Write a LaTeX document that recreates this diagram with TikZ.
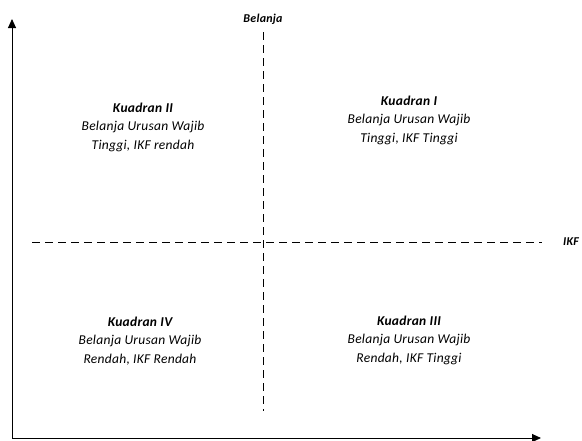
\documentclass[tikz,border=0pt]{standalone}
\usepackage{fontspec}
\setmainfont{Carlito}
\newfontfamily\quadfont[LetterSpace=2]{Carlito}
\usetikzlibrary{arrows.meta}
\begin{document}
\begin{tikzpicture}[x=1pt,y=-1pt,
  axis/.style={line width=0.9pt,-{Triangle[length=9pt,width=8pt]}},
  guide/.style={line width=0.8pt,dash pattern=on 8pt off 5pt},
  quad/.style={align=center,font=\quadfont\fontsize{13.5}{18.5}\selectfont\itshape},
  axlabel/.style={font=\quadfont\fontsize{12}{13}\selectfont\bfseries\itshape}]
\useasboundingbox (0,0) rectangle (582,440);
\coordinate (O) at (12,438);
\coordinate (ytip) at (12,19);
\coordinate (xtip) at (541,438);
\draw[axis] (O) -- (ytip);
\draw[axis] (O) -- (xtip);
\node[axlabel] (bel) at (263,19) {Belanja};
\node[axlabel] (ikf) at (571,242) {IKF};
\coordinate (vtop) at (263,32);
\coordinate (vbot) at (263,411);
\coordinate (hleft) at (32,242);
\coordinate (hright) at (542,242);
\draw[guide] (vtop) -- (vbot);
\draw[guide] (hleft) -- (hright);
\node[quad] (q2) at (143,127) {\textbf{Kuadran II}\\Belanja Urusan Wajib\\Tinggi, IKF rendah};
\node[quad] (q1) at (409,120) {\textbf{Kuadran I}\\Belanja Urusan Wajib\\Tinggi, IKF Tinggi};
\node[quad] (q4) at (140,341) {\textbf{Kuadran IV}\\Belanja Urusan Wajib\\Rendah, IKF Rendah};
\node[quad] (q3) at (409,340) {\textbf{Kuadran III}\\Belanja Urusan Wajib\\Rendah, IKF Tinggi};
\end{tikzpicture}
\end{document}
